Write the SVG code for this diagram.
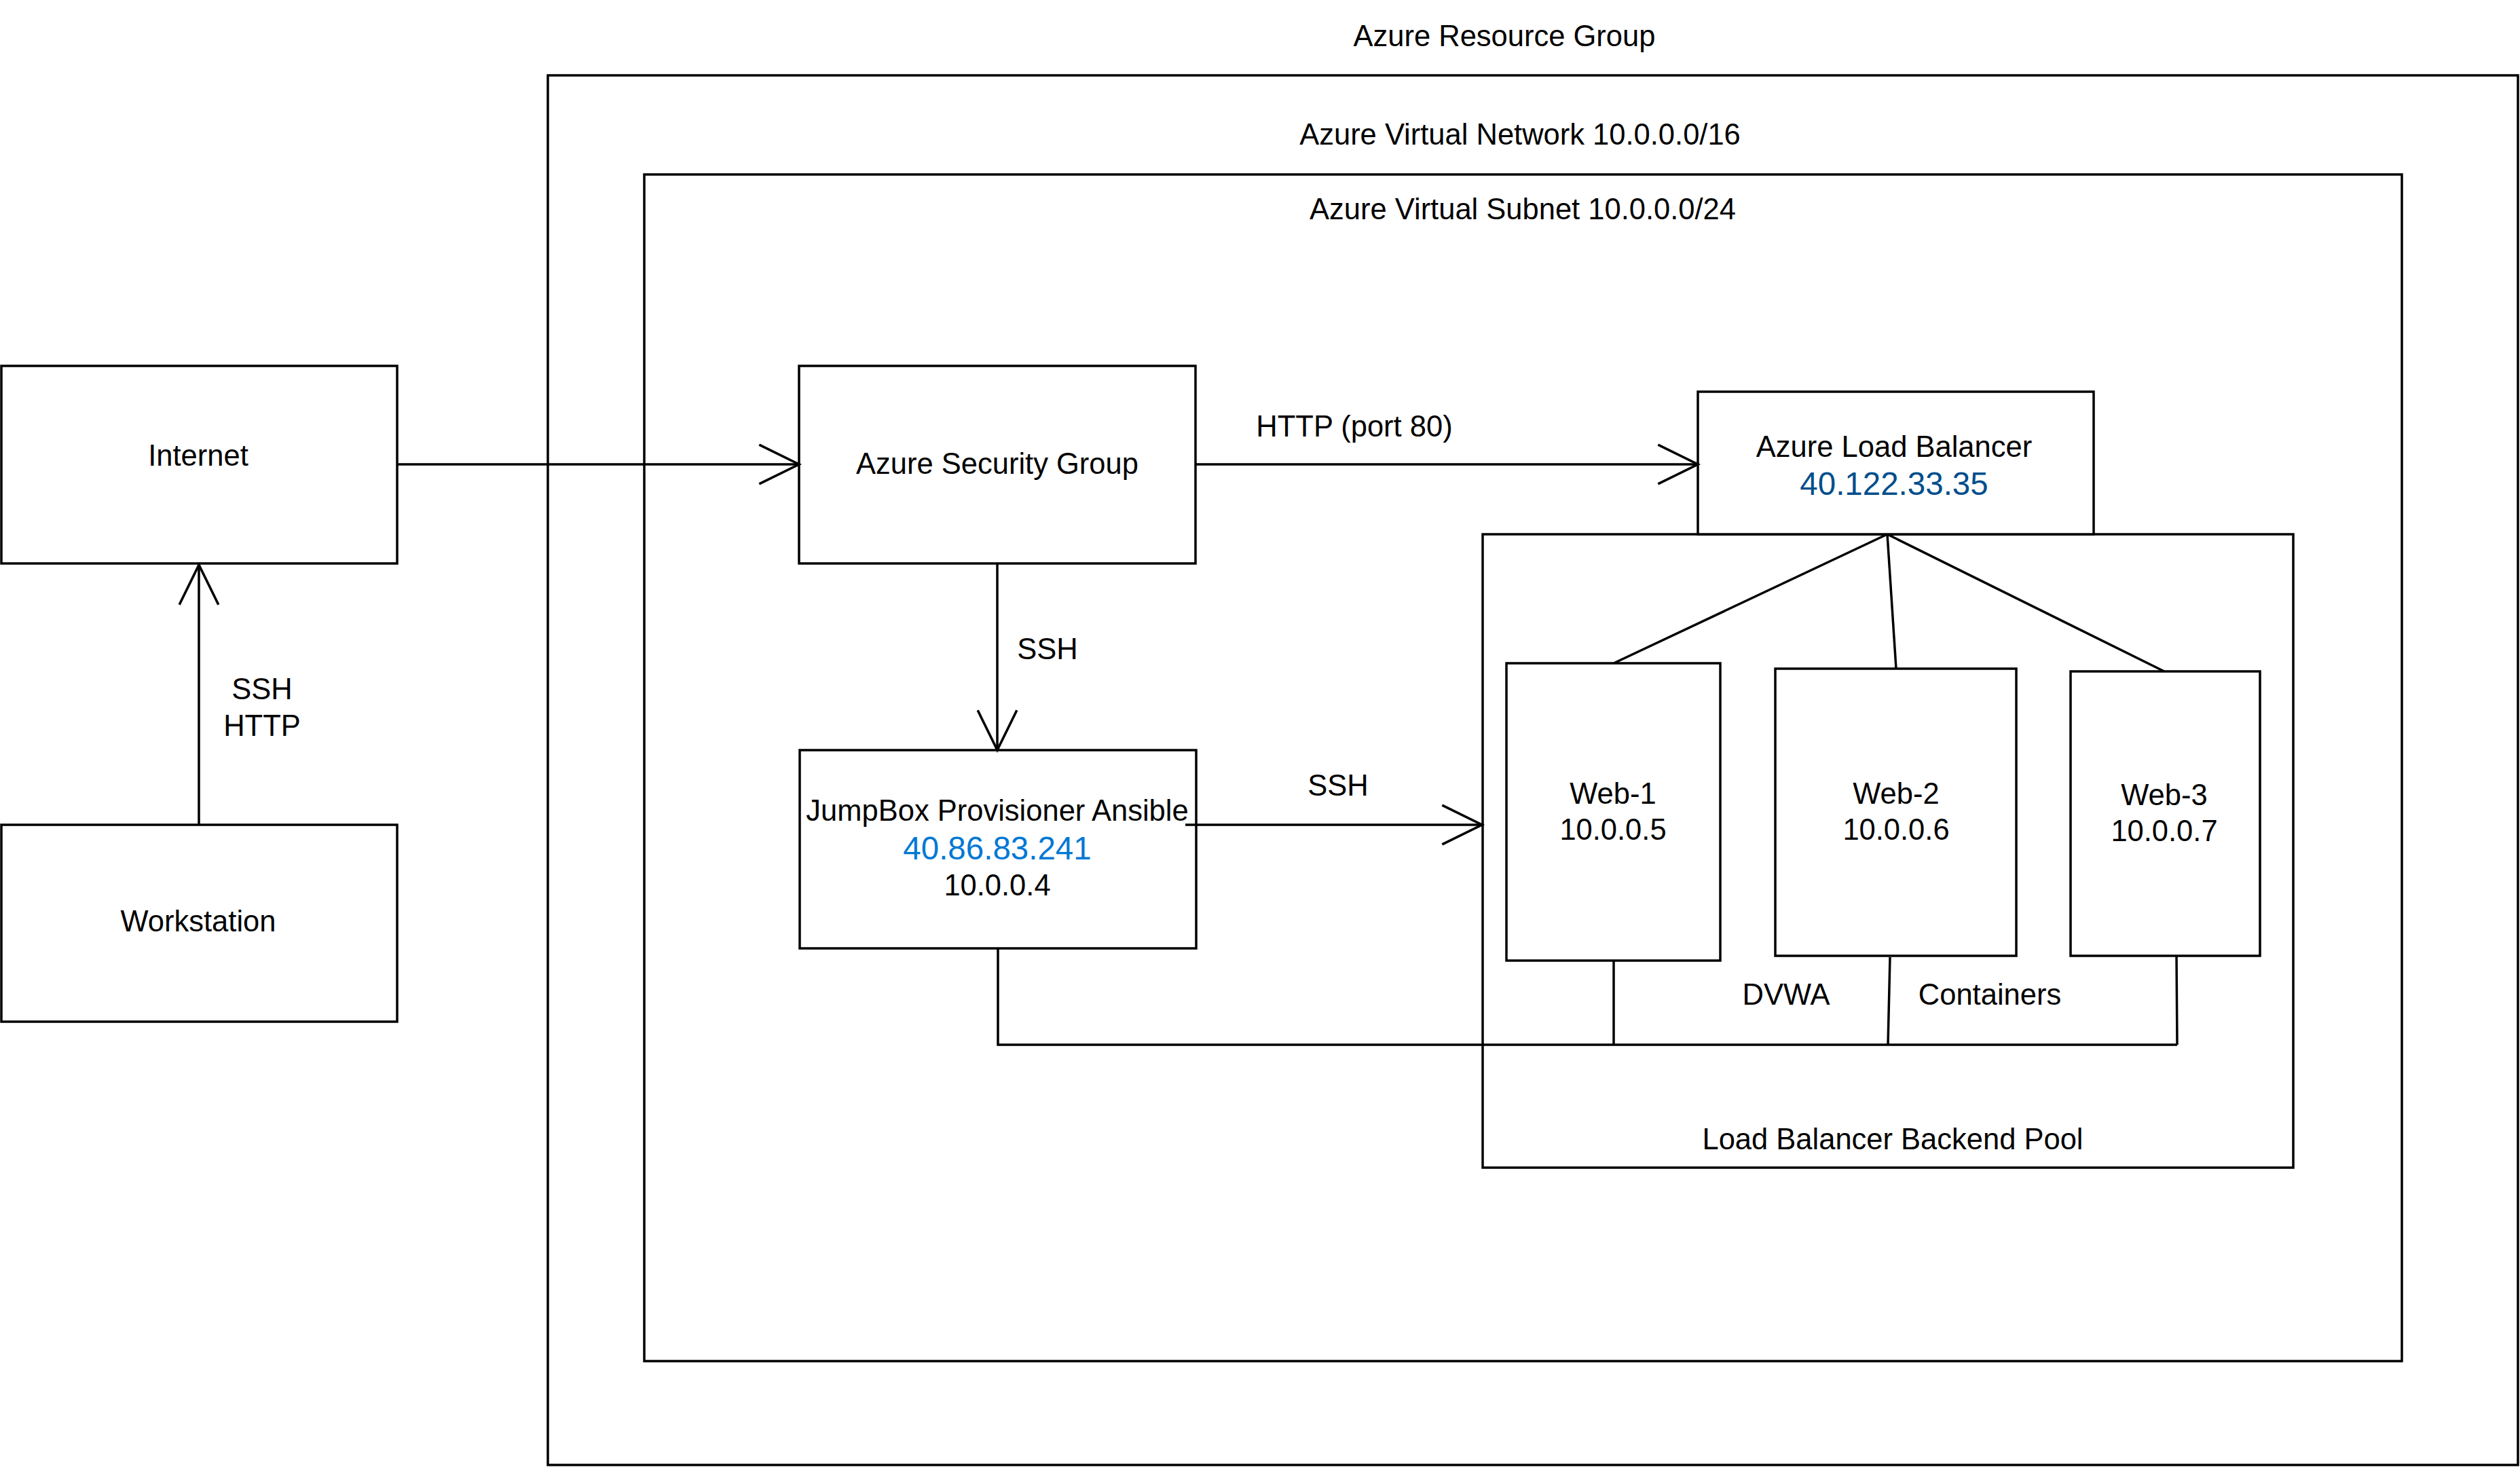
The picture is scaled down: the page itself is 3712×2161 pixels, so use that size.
<svg xmlns="http://www.w3.org/2000/svg" width="3712" height="2161" viewBox="0 0 3712 2161">
<style>
.box{fill:#ffffff;stroke:#000000;stroke-width:3.5}
.cont{fill:none;stroke:#000000;stroke-width:3.5}
.ln{fill:none;stroke:#000000;stroke-width:3.5}
text{font-family:"Liberation Sans",Arial,sans-serif;font-size:43.5px;fill:#000000;text-anchor:middle}
.pub{fill:#0078D4;font-size:47.5px}
.lbip{fill:#004E8C;font-size:47.5px}
</style>
<defs>
<marker id="open" markerUnits="userSpaceOnUse" markerWidth="70" markerHeight="70" viewBox="-62 -34 68 68" refX="0" refY="0" orient="auto">
<path d="M-57,-28 L0,0 L-57,28" fill="none" stroke="#000000" stroke-width="3.5"/>
</marker>
</defs>
<rect width="3712" height="2161" fill="#ffffff"/>
<g id="resource-group">
<rect class="cont" x="807" y="111" width="2902" height="2047"/>
<text x="2216" y="68">Azure Resource Group</text>
</g>
<g id="virtual-network">
<rect class="cont" x="949" y="257" width="2589" height="1748"/>
<text x="2239" y="213">Azure Virtual Network 10.0.0.0/16</text>
<text x="2243" y="323">Azure Virtual Subnet 10.0.0.0/24</text>
</g>
<g id="backend-pool">
<rect class="cont" x="2184" y="787" width="1194" height="933"/>
<text x="2788" y="1693">Load Balancer Backend Pool</text>
</g>
<g id="internet">
<rect class="box" x="2" y="539" width="583" height="291"/>
<text x="292" y="686">Internet</text>
</g>
<g id="workstation">
<rect class="box" x="2" y="1215" width="583" height="290"/>
<text x="292" y="1372">Workstation</text>
</g>
<g id="security-group">
<rect class="box" x="1177" y="539" width="584" height="291"/>
<text x="1469" y="698">Azure Security Group</text>
</g>
<g id="jumpbox">
<rect class="box" x="1178" y="1105" width="584" height="292"/>
<text x="1469" y="1209">JumpBox Provisioner Ansible</text>
<text class="pub" x="1469" y="1266">40.86.83.241</text>
<text x="1469" y="1319">10.0.0.4</text>
</g>
<g id="load-balancer">
<rect class="box" x="2501" y="577" width="583" height="210"/>
<text x="2790" y="673">Azure Load Balancer</text>
<text class="lbip" x="2790" y="729">40.122.33.35</text>
</g>
<g id="web-1">
<rect class="box" x="2219" y="977" width="315" height="438"/>
<text x="2376" y="1184">Web-1</text>
<text x="2376" y="1237">10.0.0.5</text>
</g>
<g id="web-2">
<rect class="box" x="2615" y="985" width="355" height="423"/>
<text x="2793" y="1184">Web-2</text>
<text x="2793" y="1237">10.0.0.6</text>
</g>
<g id="web-3">
<rect class="box" x="3050" y="989" width="279" height="419"/>
<text x="3188" y="1186">Web-3</text>
<text x="3188" y="1239">10.0.0.7</text>
</g>
<g id="connectors">
<path class="ln" d="M293,1215 L293,832" marker-end="url(#open)"/>
<path class="ln" d="M585,684 L1177,684" marker-end="url(#open)"/>
<path class="ln" d="M1761,684 L2501,684" marker-end="url(#open)"/>
<path class="ln" d="M1469,830 L1469,1105" marker-end="url(#open)"/>
<path class="ln" d="M1746,1215 L2183,1215" marker-end="url(#open)"/>
<path class="ln" d="M2780,787 L2377,977"/>
<path class="ln" d="M2780,787 L2793,985"/>
<path class="ln" d="M2780,787 L3188,989"/>
<path class="ln" d="M1470,1397 L1470,1539 L3207,1539"/>
<path class="ln" d="M2377,1415 L2377,1539"/>
<path class="ln" d="M2784,1410 L2781,1539"/>
<path class="ln" d="M3206,1408 L3207,1539"/>
<text x="386" y="1030">SSH</text>
<text x="386" y="1084">HTTP</text>
<text x="1995" y="643">HTTP (port 80)</text>
<text x="1543" y="971">SSH</text>
<text x="1971" y="1172">SSH</text>
<text x="2631" y="1480">DVWA</text>
<text x="2931" y="1480">Containers</text>
</g>
</svg>
